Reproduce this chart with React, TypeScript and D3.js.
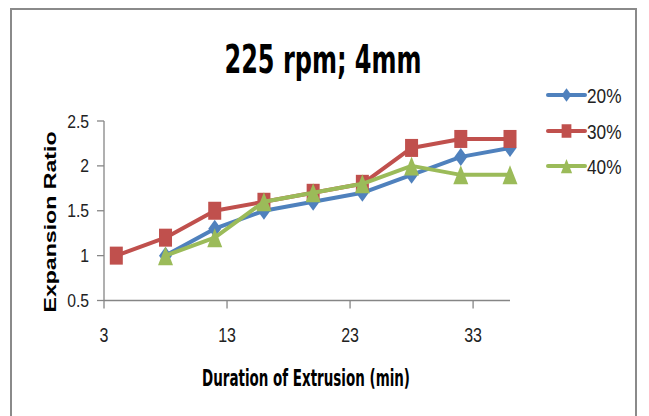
import React from "react";
import * as d3 from "d3";

const durations = [4, 8, 12, 16, 20, 24, 28, 32, 36];
const series20 = [null, 1.0, 1.3, 1.5, 1.6, 1.7, 1.9, 2.1, 2.2];
const series30 = [1.0, 1.2, 1.5, 1.6, 1.7, 1.8, 2.2, 2.3, 2.3];
const series40 = [null, 1.0, 1.2, 1.6, 1.7, 1.8, 2.0, 1.9, 1.9];
const seriesNames = ["20%", "30%", "40%"];
const seriesColors = ["#4F81BD", "#C0504D", "#9BBB59"];
const markerShapes = ["diamond", "square", "triangle"];
const xTicks = [3, 13, 23, 33];
const yTicks = [0.5, 1, 1.5, 2, 2.5];
const title = "225 rpm; 4mm";
const xTitle = "Duration of Extrusion (min)";
const yTitle = "Expansion Ratio";

const W = 649;
const H = 416;
const FONT = "'Liberation Sans Narrow', 'DejaVu Sans Condensed', 'Liberation Sans', sans-serif";
const TFONT = "'Liberation Sans', Arial, sans-serif";

function Marker({ shape, x, y, color, s }: { shape: string; x: number; y: number; color: string; s: number }) {
  if (shape === "square") {
    return <rect x={x - 6.5 * s} y={y - 9 * s} width={13 * s} height={18 * s} fill={color} />;
  }
  if (shape === "diamond") {
    const w = 6.5 * s, h = 9 * s;
    return <path d={`M${x},${y - h}L${x + w},${y}L${x},${y + h}L${x - w},${y}Z`} fill={color} />;
  }
  const w = 7.5 * s, h = 9.5 * s;
  return <path d={`M${x},${y - h}L${x + w},${y + h}L${x - w},${y + h}Z`} fill={color} />;
}

function CText({ x, y, anchor, size, sx, children }: { x: number; y: number; anchor: string; size: number; sx: number; children: React.ReactNode }) {
  return (
    <text transform={`translate(${x},${y}) scale(${sx},1)`} textAnchor={anchor} fontFamily={TFONT} fontSize={size} fill="#222">
      {children}
    </text>
  );
}

export default function App() {
  const x = d3.scaleLinear().domain([3, 36]).range([104, 510]);
  const y = d3.scaleLinear().domain([0.5, 2.5]).range([300.5, 121]);
  const all = [series20, series30, series40];
  const line = d3
    .line<[number, number | null]>()
    .defined((d) => d[1] != null)
    .x((d) => x(d[0]))
    .y((d) => y(d[1] as number));

  const legendY = [95, 131, 166];

  return (
    <svg width={W} height={H} style={{ position: "absolute", left: 0, top: 0, background: "#fff" }}>
      <rect x={0} y={0} width={W} height={H} fill="#fff" />
      <rect x={11} y={9} width={625} height={440} fill="none" stroke="#8a8a8a" strokeWidth={2} />
      <text x={323} y={73} textAnchor="middle" fontFamily={FONT} fontWeight="bold" fontSize={39} textLength={197} lengthAdjust="spacingAndGlyphs" fill="#000">
        {title}
      </text>

      {/* axes */}
      <line x1={x(3)} x2={x(3)} y1={y(2.5)} y2={y(0.5)} stroke="#868686" strokeWidth={1.3} />
      <line x1={x(3)} x2={x(36)} y1={y(0.5)} y2={y(0.5)} stroke="#868686" strokeWidth={1.3} />
      {yTicks.map((t) => (
        <g key={"y" + t}>
          <line x1={x(3) - 7} x2={x(3)} y1={y(t)} y2={y(t)} stroke="#868686" strokeWidth={1.3} />
          <CText x={89} y={y(t) + 6.5} anchor="end" size={18.5} sx={0.85}>
            {t}
          </CText>
        </g>
      ))}
      {xTicks.map((t) => (
        <g key={"x" + t}>
          <line x1={x(t)} x2={x(t)} y1={y(0.5)} y2={y(0.5) + 8} stroke="#868686" strokeWidth={1.3} />
          <CText x={x(t)} y={342} anchor="middle" size={20.5} sx={0.78}>
            {t}
          </CText>
        </g>
      ))}

      <text x={306} y={386} textAnchor="middle" fontFamily={FONT} fontWeight="bold" fontSize={23} textLength={208} lengthAdjust="spacingAndGlyphs" fill="#000">
        {xTitle}
      </text>
      <text
        transform={`translate(56,222) rotate(-90)`}
        textAnchor="middle"
        fontFamily={TFONT}
        fontWeight="bold"
        fontSize={16}
        textLength={181}
        lengthAdjust="spacingAndGlyphs"
        fill="#000"
      >
        {yTitle}
      </text>

      {/* series */}
      {all.map((vals, i) => {
        const pts = durations.map((d, j) => [d, vals[j]] as [number, number | null]);
        return (
          <g key={seriesNames[i]}>
            <path d={line(pts) || ""} fill="none" stroke={seriesColors[i]} strokeWidth={4} strokeLinejoin="round" strokeLinecap="round" />
            {pts
              .filter((p) => p[1] != null)
              .map((p, j) => (
                <Marker key={j} shape={markerShapes[i]} x={x(p[0])} y={y(p[1] as number)} color={seriesColors[i]} s={1} />
              ))}
          </g>
        );
      })}

      {/* legend */}
      {seriesNames.map((n, i) => (
        <g key={"l" + n}>
          <line x1={548} x2={585} y1={legendY[i]} y2={legendY[i]} stroke={seriesColors[i]} strokeWidth={4} strokeLinecap="round" />
          <Marker shape={markerShapes[i]} x={566.5} y={legendY[i]} color={seriesColors[i]} s={0.75} />
          <CText x={587} y={legendY[i] + 7.5} anchor="start" size={21} sx={0.82}>
            {n}
          </CText>
        </g>
      ))}
    </svg>
  );
}
